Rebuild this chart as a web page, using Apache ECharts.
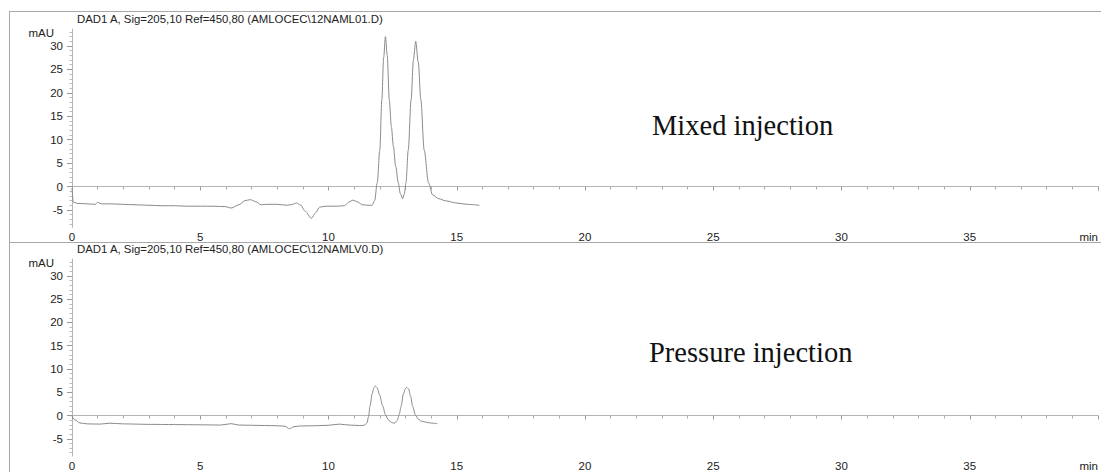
<!DOCTYPE html>
<html>
<head>
<meta charset="utf-8">
<script src="https://cdn.jsdelivr.net/npm/echarts@6/dist/echarts.min.js"></script>
<style>
html,body{margin:0;padding:0;background:#fff;}
#chart{width:1101px;height:472px;}
</style>
</head>
<body>
<div id="chart"></div>
<script>
// ---- data ----
const mixedTitle = 'DAD1 A, Sig=205,10 Ref=450,80 (AMLOCEC\\12NAML01.D)';
const pressureTitle = 'DAD1 A, Sig=205,10 Ref=450,80 (AMLOCEC\\12NAMLV0.D)';
const mixedLabel = 'Mixed injection';
const pressureLabel = 'Pressure injection';
const yUnit = 'mAU';
const xUnit = 'min';

const mixedTime = [0, 0.05, 0.2, 0.6, 0.9, 1.0, 1.15, 1.5, 2, 2.5, 3, 3.5, 4, 4.5, 5, 5.5, 6.0, 6.2, 6.5, 6.75, 6.95, 7.15, 7.38, 7.6, 8.0, 8.4, 8.6, 8.75, 8.9, 9.1, 9.33, 9.5, 9.65, 9.9, 10.3, 10.62, 10.8, 10.95, 11.1, 11.33, 11.55, 11.7, 11.8, 11.9, 12.0, 12.08, 12.15, 12.22, 12.29, 12.37, 12.45, 12.53, 12.62, 12.72, 12.8, 12.89, 12.96, 13.02, 13.11, 13.22, 13.31, 13.4, 13.5, 13.6, 13.73, 13.9, 14.06, 14.3, 14.57, 14.97, 15.4, 15.88];
const mixedSignal = [-0.3, -3.3, -3.6, -3.7, -3.8, -3.4, -3.7, -3.7, -3.8, -3.9, -4.0, -4.1, -4.1, -4.2, -4.2, -4.2, -4.3, -4.6, -3.9, -3.0, -2.8, -3.2, -3.9, -3.8, -3.8, -4.0, -3.8, -3.5, -3.9, -5.3, -6.8, -5.6, -4.4, -4.2, -4.2, -4.1, -3.3, -2.9, -3.2, -3.9, -4.0, -4.0, -3.0, 0.8, 7.8, 18.5, 27.5, 32.0, 28.0, 18.5, 12.8, 8.6, 4.3, 0.8, -1.5, -2.6, -1.5, 0.8, 7.8, 18.5, 27.0, 31.0, 26.5, 18.5, 7.8, 0.8, -1.8, -2.6, -3.05, -3.5, -3.8, -4.0];

const pressureTime = [0, 0.1, 0.31, 0.6, 1.09, 1.48, 2, 3, 4, 5, 5.8, 6.21, 6.5, 7, 7.5, 8.0, 8.3, 8.48, 8.65, 8.9, 9.5, 10.0, 10.43, 10.8, 11.2, 11.4, 11.5, 11.56, 11.62, 11.7, 11.77, 11.83, 11.9, 12.0, 12.11, 12.22, 12.33, 12.45, 12.57, 12.68, 12.76, 12.83, 12.92, 13.0, 13.05, 13.12, 13.2, 13.28, 13.38, 13.5, 13.62, 13.74, 13.95, 14.25];
const pressureSignal = [-0.1, -0.9, -1.6, -1.8, -1.85, -1.65, -1.8, -1.9, -1.95, -2.0, -2.05, -1.75, -2.05, -2.1, -2.15, -2.2, -2.3, -2.85, -2.4, -2.25, -2.2, -2.1, -1.85, -2.05, -2.15, -2.1, -1.6, -0.3, 2.1, 4.6, 6.0, 6.3, 5.9, 4.3, 2.1, 0.2, -0.9, -1.5, -1.65, -1.1, 0.3, 2.0, 4.6, 5.8, 6.05, 5.7, 4.2, 2.0, 0.2, -0.8, -1.2, -1.35, -1.6, -1.77];

const yMajorTicks = [-5, 0, 5, 10, 15, 20, 25, 30];
const yMinorTicks = [-8, -7, -6, -4, -3, -2, -1, 1, 2, 3, 4, 6, 7, 8, 9, 11, 12, 13, 14, 16, 17, 18, 19, 21, 22, 23, 24, 26, 27, 28, 29, 31, 32, 33];
const yRange = [-8.7, 33.6];
const xRange = [0, 40];
const xStep = 5;

// ---- chart ----
const chart = echarts.init(document.getElementById('chart'), null, {renderer: 'svg'});
const FONT = '"Liberation Sans", Arial, sans-serif';
const SERIF = '"Liberation Serif", "Times New Roman", serif';
const AX = '#b4b4b4';
const TXT = '#222';
const LINE = '#8a8a8a';

const gridTop = [29.1, 259.1];
const gridH = 198.2;

function pairs(t, v) { return t.map((x, i) => [x, v[i]]); }

const grids = gridTop.map(t => ({left: 72, top: t, width: 1028, height: gridH, containLabel: false}));

const xAxes = [0, 1].map(g => ({
  type: 'value', gridIndex: g, min: xRange[0], max: xRange[1], interval: xStep,
  axisLine: {show: true, lineStyle: {color: AX, width: 1}},
  axisTick: {show: true, length: 4, lineStyle: {color: '#999'}},
  minorTick: {show: true, splitNumber: 5, length: 3, lineStyle: {color: '#aaa'}},
  splitLine: {show: false},
  axisLabel: {
    color: TXT, fontFamily: FONT, fontSize: 11.5, margin: 4,
    alignMaxLabel: 'right',
    formatter: v => (v === xRange[1] ? xUnit : String(v))
  }
}));

const yAxes = [];
[0, 1].forEach(g => {
  yAxes.push({
    type: 'value', gridIndex: g, min: yRange[0], max: yRange[1],
    axisLine: {show: true, lineStyle: {color: AX, width: 1}},
    axisTick: {show: true, length: 5, customValues: yMajorTicks, lineStyle: {color: '#999'}},
    axisLabel: {show: true, customValues: yMajorTicks, color: TXT, fontFamily: FONT, fontSize: 11.5, margin: 9},
    splitLine: {show: false}
  });
  yAxes.push({
    type: 'value', gridIndex: g, min: yRange[0], max: yRange[1], position: 'left',
    axisLine: {show: false},
    axisTick: {show: true, length: 2.5, customValues: yMinorTicks, lineStyle: {color: '#bbb'}},
    axisLabel: {show: false},
    splitLine: {show: false}
  });
});

const series = [
  {type: 'line', xAxisIndex: 0, yAxisIndex: 0, data: pairs(mixedTime, mixedSignal)},
  {type: 'line', xAxisIndex: 1, yAxisIndex: 2, data: pairs(pressureTime, pressureSignal)}
].map(s => Object.assign(s, {
  showSymbol: false, smooth: 0.3, smoothMonotone: 'x', animation: false,
  lineStyle: {color: LINE, width: 1}
}));

const frameColor = '#a8a8a8';
const graphic = [
  {type: 'line', shape: {x1: 9, y1: 11.5, x2: 1101, y2: 11.5}, style: {stroke: frameColor, lineWidth: 1}},
  {type: 'line', shape: {x1: 9.5, y1: 11, x2: 9.5, y2: 472}, style: {stroke: frameColor, lineWidth: 1}},
  {type: 'line', shape: {x1: 9, y1: 242.5, x2: 1101, y2: 242.5}, style: {stroke: frameColor, lineWidth: 1}},
  {type: 'text', x: 77, y: 18.5, style: {text: mixedTitle, fill: TXT, font: '11.4px ' + FONT, verticalAlign: 'middle'}},
  {type: 'text', x: 77, y: 249, style: {text: pressureTitle, fill: TXT, font: '11.4px ' + FONT, verticalAlign: 'middle'}},
  {type: 'text', x: 54, y: 33, style: {text: yUnit, fill: TXT, font: '11.5px ' + FONT, align: 'right', verticalAlign: 'middle'}},
  {type: 'text', x: 54, y: 263, style: {text: yUnit, fill: TXT, font: '11.5px ' + FONT, align: 'right', verticalAlign: 'middle'}},
  {type: 'text', x: 652, y: 125, style: {text: mixedLabel, fill: '#111', font: '28.5px ' + SERIF, verticalAlign: 'middle'}},
  {type: 'text', x: 649, y: 352, style: {text: pressureLabel, fill: '#111', font: '28.5px ' + SERIF, verticalAlign: 'middle'}}
];

chart.setOption({
  animation: false,
  backgroundColor: '#fff',
  grid: grids,
  xAxis: xAxes,
  yAxis: yAxes,
  series: series,
  graphic: graphic
});
</script>
</body>
</html>
